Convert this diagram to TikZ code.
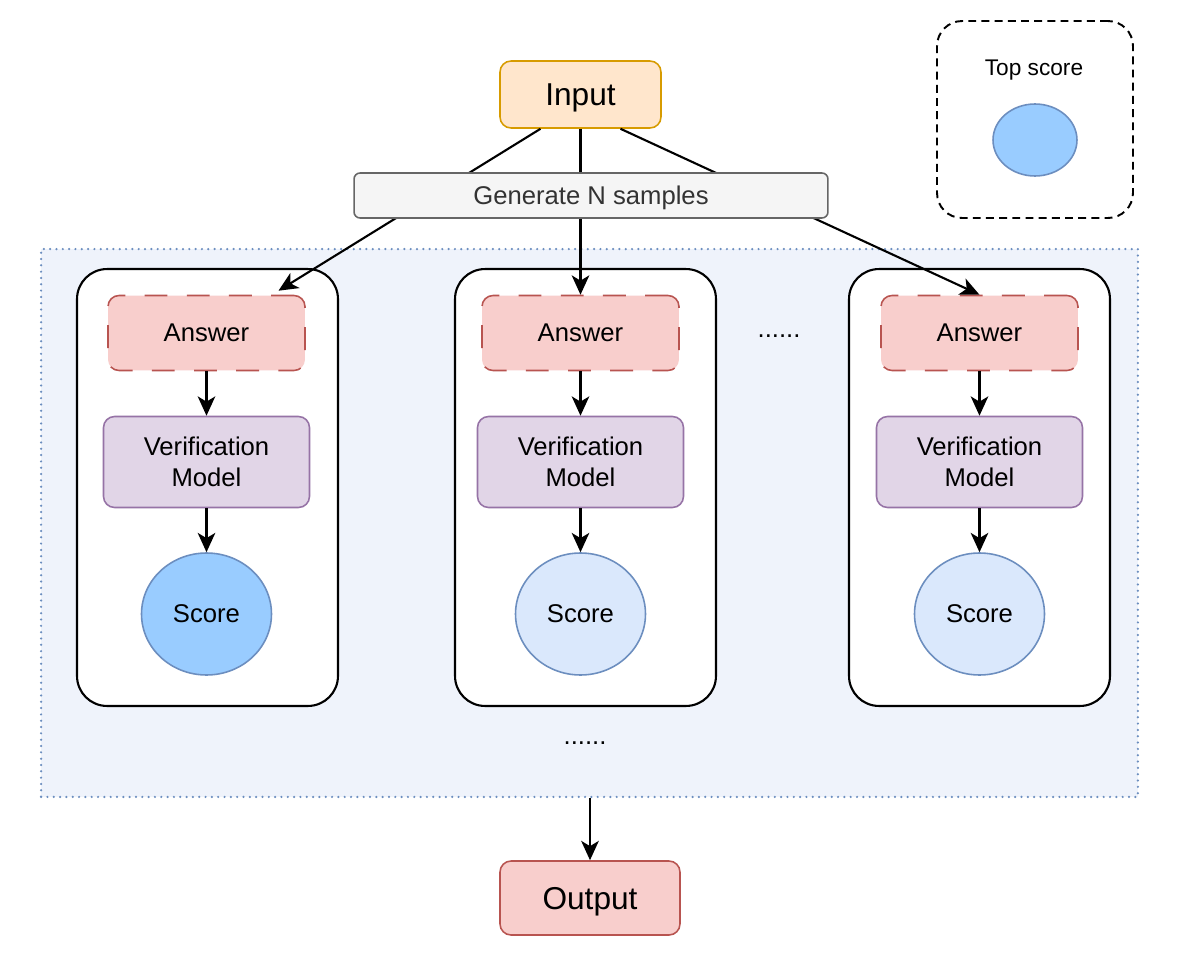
\documentclass[tikz,border=0pt]{standalone}
\usepackage{fontspec}
\setmainfont{Liberation Sans}
\usepackage{tikz}
\usetikzlibrary{arrows.meta,shapes.geometric}
\definecolor{inpfill}{HTML}{FFE6CC}
\definecolor{inpline}{HTML}{D79B00}
\definecolor{genfill}{HTML}{F5F5F5}
\definecolor{genline}{HTML}{666666}
\definecolor{gentext}{HTML}{333333}
\definecolor{ansfill}{HTML}{F8CECC}
\definecolor{ansline}{HTML}{B85450}
\definecolor{vmfill}{HTML}{E1D5E7}
\definecolor{vmline}{HTML}{9673A6}
\definecolor{scfill}{HTML}{DAE8FC}
\definecolor{topfill}{HTML}{99CCFF}
\definecolor{scline}{HTML}{6C8EBF}
\definecolor{poolfill}{HTML}{EFF3FB}

\begin{document}
\begin{tikzpicture}[x=0.02cm,y=-0.02cm,
    box/.style={draw,rounded corners=0.22cm,inner sep=0pt,align=center,line width=0.9pt,font=\fontsize{14.6}{18}\selectfont},
    capmid/.style={text height=#1,text depth=0pt},
    big/.style={box,capmid=12.9pt,font=\fontsize{18}{21}\selectfont},
    ans/.style={box,fill=ansfill,draw=ansline,dash pattern=on 13pt off 11pt,minimum width=3.94cm,minimum height=1.5cm},
    vm/.style={box,fill=vmfill,draw=vmline,minimum width=4.12cm,minimum height=1.82cm},
    sc/.style={ellipse,draw=scline,fill=scfill,line width=0.9pt,inner sep=0pt,minimum width=2.6cm,minimum height=2.44cm,font=\fontsize{14.6}{18}\selectfont},
    col/.style={draw,fill=white,rounded corners=0.6cm,line width=1.2pt,minimum width=5.22cm,minimum height=8.74cm},
    arr/.style={-{Stealth[length=11pt,width=10pt,inset=3pt]},line width=1.2pt}]
    \useasboundingbox (0,0) rectangle (1181,970);

    \node[draw=scline,fill=poolfill,line width=1.4pt,dash pattern=on 0pt off 3.6pt,line cap=round,minimum width=21.94cm,minimum height=10.96cm] (pool) at (589.5,523) {};
    \node[col] (col1) at (207.5,487.5) {};
    \node[col] (col2) at (585.5,487.5) {};
    \node[col] (col3) at (979.5,487.5) {};

    \node[big,fill=inpfill,draw=inpline,minimum width=3.22cm,minimum height=1.34cm] (inp) at (580.5,94.5) {Input};

    \node[ans] (ans1) at (206.5,333) {Answer};
    \node[ans] (ans2) at (580.5,333) {Answer};
    \node[ans] (ans3) at (979.5,333) {Answer};
    \node[vm] (vm1) at (206.5,462) {Verification\\Model};
    \node[vm] (vm2) at (580.5,462) {Verification\\Model};
    \node[vm] (vm3) at (979.5,462) {Verification\\Model};
    \node[sc,fill=topfill] (sc1) at (206.5,614) {Score};
    \node[sc] (sc2) at (580.5,614) {Score};
    \node[sc] (sc3) at (979.5,614) {Score};

    \draw[arr] ([xshift=-0.8cm]inp.south) -- ([xshift=1.44cm,yshift=0.08cm]ans1.north);
    \draw[arr] (inp.south -| ans2.north) -- (ans2.north);
    \draw[arr] ([xshift=0.8cm]inp.south) -- (ans3.north);

    \node[box,capmid=10.45pt,fill=genfill,draw=genline,text=gentext,rounded corners=0.12cm,minimum width=9.48cm,minimum height=0.9cm] (gen) at (591,195.5) {Generate N samples};

    \draw[arr] (ans1) -- (vm1);
    \draw[arr] (ans2) -- (vm2);
    \draw[arr] (ans3) -- (vm3);
    \draw[arr] (vm1) -- (sc1);
    \draw[arr] (vm2) -- (sc2);
    \draw[arr] (vm3) -- (sc3);

    \node[font=\fontsize{14.6}{18}\selectfont] (dots1) at (779,336) {......};
    \node[font=\fontsize{14.6}{18}\selectfont] (dots2) at (585,743) {......};

    \node[big,fill=ansfill,draw=ansline,minimum width=3.6cm,minimum height=1.48cm] (out) at (590,898) {Output};
    \draw[arr] (pool.south -| out.north) -- (out.north);

    \node[draw,rounded corners=0.5cm,line width=1.1pt,dash pattern=on 4.5pt off 3pt,minimum width=3.92cm,minimum height=3.94cm] (top) at (1035,119.5) {};
    \node[capmid=9.24pt,font=\fontsize{12.9}{15}\selectfont] (toplab) at (1034,67.5) {Top score};
    \node[ellipse,draw=scline,fill=topfill,line width=0.9pt,minimum width=1.68cm,minimum height=1.44cm] (topsc) at (1035,140) {};
\end{tikzpicture}
\end{document}
